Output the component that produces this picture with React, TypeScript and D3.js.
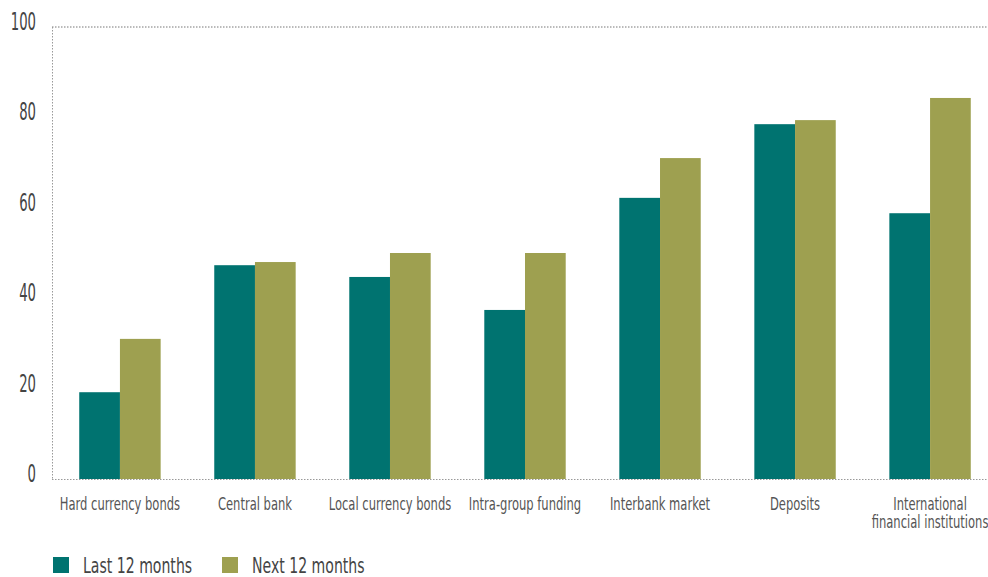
import React from "react";
import * as d3 from "d3";

const categories = [
  ["Hard currency bonds"],
  ["Central bank"],
  ["Local currency bonds"],
  ["Intra-group funding"],
  ["Interbank market"],
  ["Deposits"],
  ["International", "financial institutions"],
];
const last12 = [19.2, 47.3, 44.7, 37.4, 62.2, 78.5, 58.8];
const next12 = [31.0, 48.0, 50.0, 50.0, 71.0, 79.4, 84.3];
const seriesNames = ["Last 12 months", "Next 12 months"];
const yTicks = [0, 20, 40, 60, 80, 100];

const W = 988;
const H = 577;
const FONT = "'DejaVu Sans', sans-serif";
const colors = ["#007370", "#9EA050"];

function CText({ x, y, sx, anchor, size, fill, children }: any) {
  return (
    <text
      transform={`translate(${x},${y}) scale(${sx},1)`}
      x={0}
      y={0}
      textAnchor={anchor}
      fontFamily={FONT}
      fontSize={size}
      fill={fill}
    >
      {children}
    </text>
  );
}

export default function App() {
  const left = 52;
  const y = d3.scaleLinear().domain([0, 100]).range([479, 27]);
  const x0 = d3
    .scaleBand<number>()
    .domain(categories.map((_, i) => i))
    .range([left + 0.5, left + 0.5 + 135 * 7])
    .paddingInner(0.397)
    .paddingOuter(0.198);
  const x1 = d3.scaleBand<number>().domain([0, 1]).range([0, x0.bandwidth()]);
  const series = [last12, next12];

  return (
    <svg width={W} height={H} style={{ position: "absolute", left: 0, top: 0, display: "block" }}>
      <rect width={W} height={H} fill="#fff" />
      <line x1={left} x2={W} y1={y(100)} y2={y(100)} stroke="#777" strokeDasharray="1.5,1.5" strokeWidth={1} />
      <line x1={left} x2={W} y1={y(0) + 0.5} y2={y(0) + 0.5} stroke="#999" strokeDasharray="1.5,1.5" strokeWidth={1} />
      <line x1={left + 0.5} x2={left + 0.5} y1={y(100)} y2={y(0)} stroke="#999" strokeDasharray="1.5,1.5" strokeWidth={1} />
      {yTicks.map((t) => (
        <CText key={t} x={36} y={y(t) + 3} sx={0.54} anchor="end" size={24.5} fill="#444">
          {t}
        </CText>
      ))}
      {series.map((s, si) =>
        s.map((v, i) => (
          <rect
            key={`${si}-${i}`}
            x={(x0(i) as number) + (x1(si) as number)}
            y={y(v)}
            width={x1.bandwidth()}
            height={y(0) - y(v)}
            fill={colors[si]}
          />
        ))
      )}
      {categories.map((lines, i) =>
        lines.map((l, li) => (
          <CText
            key={`${i}-${li}`}
            x={(x0(i) as number) + x0.bandwidth() / 2}
            y={509.5 + li * 18.5}
            sx={0.66}
            anchor="middle"
            size={17.5}
            fill="#555"
          >
            {l}
          </CText>
        ))
      )}
      {seriesNames.map((n, i) => (
        <g key={n} transform={`translate(${53 + i * 169},0)`}>
          <rect x={0} y={557} width={16} height={16} fill={colors[i]} />
          <CText x={30} y={573} sx={0.64} anchor="start" size={22} fill="#444">
            {n}
          </CText>
        </g>
      ))}
    </svg>
  );
}
